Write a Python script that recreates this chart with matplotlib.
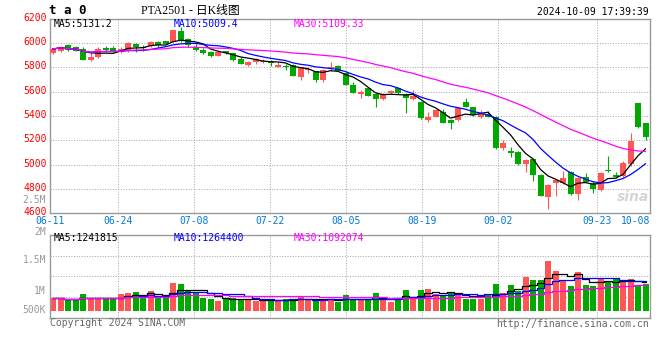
import numpy as np
import pandas as pd
import matplotlib
matplotlib.use("Agg")
from matplotlib import pyplot as plt
from matplotlib import transforms

# daily K line of PTA2501, 06-11 .. 10-09 (80 trading days)
opens = [5915, 5936, 5982, 5965, 5950, 5862, 5881, 5960, 5958, 5927,
         5930, 5993, 5966, 5977, 6010, 6013, 6009, 6100, 6030, 5968,
         5944, 5925, 5895, 5930, 5914, 5867, 5818, 5843, 5846, 5853,
         5802, 5812, 5815, 5722, 5774, 5766, 5695, 5793, 5810, 5750,
         5654, 5580, 5627, 5580, 5536, 5586, 5627, 5580, 5536, 5517,
         5366, 5393, 5435, 5366, 5366, 5517, 5470, 5393, 5413, 5393,
         5139, 5112, 5106, 5005, 5043, 4915, 4736, 4846, 4846, 4937,
         4758, 4896, 4846, 4791, 4955, 4915, 4906, 5005, 5508, 5339]
highs = [5958, 5975, 5990, 5978, 5966, 5935, 5966, 5974, 5974, 5965,
         6009, 6001, 5982, 6018, 6014, 6018, 6108, 6130, 6043, 5990,
         5955, 5930, 5945, 5935, 5920, 5880, 5849, 5878, 5870, 5860,
         5846, 5825, 5825, 5800, 5798, 5772, 5785, 5843, 5818, 5755,
         5680, 5613, 5640, 5585, 5590, 5615, 5640, 5590, 5614, 5525,
         5432, 5460, 5460, 5375, 5470, 5545, 5475, 5452, 5440, 5400,
         5198, 5147, 5110, 5045, 5050, 4925, 4840, 4880, 4950, 4945,
         4895, 4930, 4866, 4940, 5070, 4940, 5030, 5257, 5510, 5345]
lows = [5908, 5928, 5935, 5930, 5858, 5855, 5875, 5923, 5925, 5918,
        5922, 5927, 5933, 5970, 5966, 5988, 6005, 6010, 5970, 5935,
        5905, 5885, 5890, 5905, 5855, 5825, 5806, 5824, 5834, 5806,
        5798, 5780, 5728, 5696, 5749, 5680, 5680, 5766, 5765, 5650,
        5585, 5545, 5560, 5470, 5530, 5580, 5580, 5426, 5530, 5375,
        5350, 5388, 5340, 5290, 5360, 5470, 5400, 5380, 5388, 5130,
        5124, 5065, 5000, 4942, 4865, 4740, 4633, 4740, 4840, 4750,
        4710, 4855, 4770, 4785, 4942, 4890, 4895, 4990, 5300, 5202]
closes = [5950, 5968, 5941, 5935, 5862, 5886, 5950, 5944, 5927, 5950,
          6001, 5968, 5955, 6010, 5982, 5993, 6105, 6018, 5980, 5941,
          5917, 5892, 5925, 5914, 5862, 5829, 5843, 5870, 5850, 5832,
          5820, 5804, 5730, 5798, 5786, 5695, 5779, 5799, 5771, 5656,
          5591, 5599, 5563, 5539, 5580, 5607, 5586, 5545, 5566, 5380,
          5393, 5448, 5344, 5344, 5462, 5476, 5407, 5413, 5393, 5139,
          5180, 5098, 5005, 5038, 4915, 4745, 4832, 4873, 4887, 4756,
          4887, 4860, 4802, 4933, 4945, 4900, 5015, 5196, 5306, 5229]
# volume in millions of lots
volumes = [0.53, 0.53, 0.46, 0.46, 0.72, 0.52, 0.52, 0.52, 0.52, 0.72,
           0.77, 0.80, 0.60, 0.85, 0.60, 0.59, 1.19, 1.15, 0.85, 0.76,
           0.56, 0.50, 0.42, 0.55, 0.56, 0.52, 0.46, 0.42, 0.42, 0.50,
           0.42, 0.52, 0.49, 0.57, 0.52, 0.46, 0.46, 0.50, 0.39, 0.66,
           0.50, 0.50, 0.46, 0.76, 0.50, 0.37, 0.55, 0.89, 0.53, 0.89,
           0.93, 0.72, 0.67, 0.76, 0.76, 0.52, 0.52, 0.52, 0.72, 1.15,
           0.76, 1.10, 0.85, 1.45, 1.32, 1.32, 2.15, 1.72, 1.27, 1.07,
           1.67, 1.10, 1.06, 1.35, 1.27, 1.35, 1.24, 1.35, 1.10, 1.16]

date_labels = ["06-11", "06-24", "07-08", "07-22", "08-05", "08-19", "09-02", "09-23", "10-08"]
date_idx = [0, 9, 19, 29, 39, 49, 59, 72, 78]

ma_price_labels = ["MA5:5131.2", "MA10:5009.4", "MA30:5109.33"]
ma_vol_labels = ["MA5:1241815", "MA10:1264400", "MA30:1092074"]
vol_axis_labels = ["2.5M", "2M", "1.5M", "1M", "500K"]

RED = "#ff5555"
GREEN = "#00a800"
MA_COLORS = ["black", "#0000ff", "#ff00ff"]
MA_N = [5, 10, 30]
GRID = "#aaaaaa"
FRAME = "#999999"
MONO = "DejaVu Sans Mono"
FS = 7.0

W, H = 660, 360
fig = plt.figure(figsize=(W / 100, H / 100), dpi=100)


def px_box(l, t, r, b):
    return [l / W, 1 - b / H, (r - l) / W, (b - t) / H]


def ftext(xp, yp, s, **kw):
    kw.setdefault("family", MONO)
    kw.setdefault("fontsize", FS)
    kw.setdefault("va", "center")
    fig.text(xp / W, 1 - yp / H, s, **kw)


ax = fig.add_axes(px_box(50, 18.5, 650, 213.3))
axv = fig.add_axes(px_box(50, 234.7, 650, 318))

o = np.array(opens, float)
h = np.array(highs, float)
l = np.array(lows, float)
c = np.array(closes, float)
v = np.array(volumes) * 1e6
x = np.arange(len(c))
colors = np.where(c >= o, RED, GREEN)

# sina puts the date lines at width/(n-1) while candles use 7.5px slots
grid_x = np.array(date_idx[1:-1]) * len(x) / (len(x) - 1) - 0.4

for a in (ax, axv):
    a.set_xlim(-0.4, len(x) - 0.4)
    for gx in grid_x:
        a.axvline(gx, color=GRID, lw=0.75, ls=(0, (1, 1.5)), zorder=0)
    for s in a.spines.values():
        s.set_color(FRAME)
        s.set_linewidth(1.0)

# price panel
ax.set_ylim(4600, 6200)
for yv in range(4800, 6200, 200):
    ax.axhline(yv, color=GRID, lw=0.75, ls=(0, (1, 1.5)), zorder=0)
ax.vlines(x, l, h, colors=colors, lw=0.8, zorder=2)
ax.bar(x, np.maximum(np.abs(c - o), 8), width=0.8, bottom=np.minimum(o, c),
       color=colors, lw=0, zorder=3)
cs = pd.Series(c)
for n, col in zip(MA_N, MA_COLORS):
    ax.plot(x, cs.rolling(n, min_periods=1).mean(), color=col, lw=0.9, zorder=4)

ax.set_yticks(range(4600, 6201, 200))
ax.tick_params(axis="y", length=0, pad=2.4, labelcolor="#ff0000", labelsize=FS)
lift = transforms.ScaledTranslation(0, 2 / 100, fig.dpi_scale_trans)
for t in ax.get_yticklabels():
    t.set_family(MONO)
    t.set_transform(t.get_transform() + lift)
ax.set_xticks([-0.4] + list(grid_x) + [len(x) - 0.4], date_labels)
ax.tick_params(axis="x", length=0, pad=2.2, labelcolor="#0078d7", labelsize=FS)
xl = ax.get_xticklabels()
for t in xl:
    t.set_family(MONO)
xl[-1].set_horizontalalignment("right")

for lab, col, xp in zip(ma_price_labels, MA_COLORS, [54, 174, 294]):
    ftext(xp, 24, lab, color=col)

ftext(633, 197, "sina", color="#d4d4d4", fontsize=10, style="italic",
      weight="bold", ha="center", family="DejaVu Sans")

# volume panel
axv.set_ylim(-0.313e6, 3.262e6)
y0, y1 = axv.get_ylim()
for q in (0.25, 0.5, 0.75):
    axv.axhline(y0 + (y1 - y0) * q, color=GRID, lw=0.75, ls=(0, (1, 1.5)), zorder=0)
axv.bar(x, v, width=0.8, color=colors, lw=0, zorder=2)
vs = pd.Series(v)
for n, col in zip(MA_N, MA_COLORS):
    axv.plot(x, vs.rolling(n, min_periods=1).mean(), color=col, lw=0.9,
             drawstyle="steps-mid", zorder=3)
axv.set_xticks([])
axv.set_yticks([])

for lab, col, xp in zip(ma_vol_labels, MA_COLORS, [54, 174, 294]):
    ftext(xp, 238, lab, color=col)
for lab, yp in zip(vol_axis_labels, [200, 231.5, 260, 290.7, 310]):
    ftext(46, yp, lab, color="#999999", ha="right")

# header / footer
ftext(49, 11, "t a 0", fontsize=9, weight="bold")
ftext(141, 11, "PTA2501 - 日K线图", fontsize=8.5,
      family=["Liberation Serif", "Noto Sans CJK SC"])
ftext(649, 12, "2024-10-09 17:39:39", ha="right", color="black")
ftext(50, 323.5, "Copyright 2024 SINA.COM", color="#666666")
ftext(649, 324, "http://finance.sina.com.cn", ha="right", color="#666666")

fig.savefig("out.png", dpi=100, facecolor="white")
